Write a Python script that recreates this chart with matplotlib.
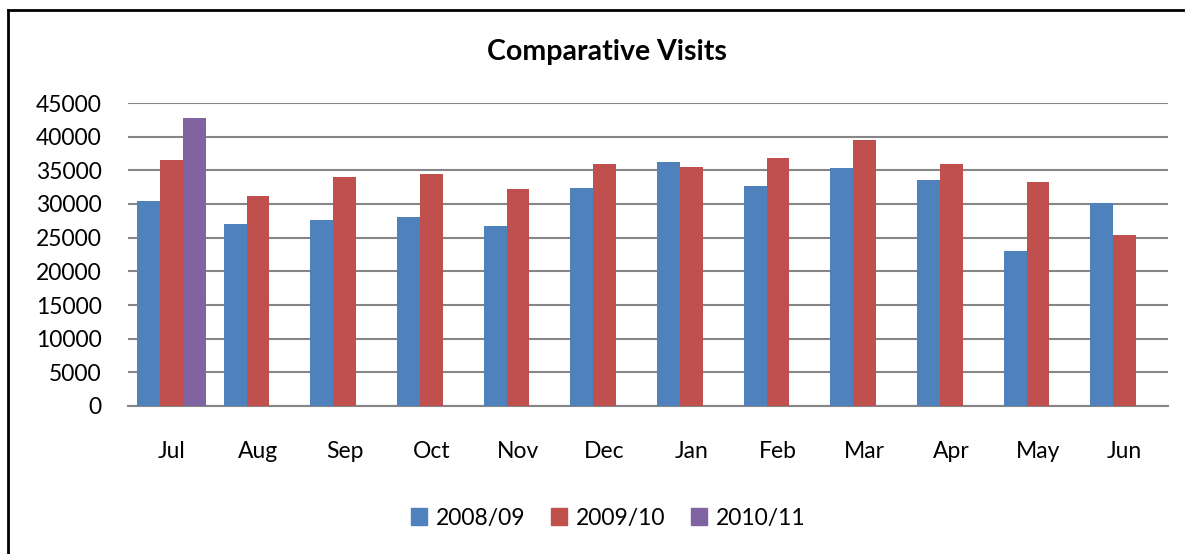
import numpy as np
import matplotlib.pyplot as plt
from matplotlib.patches import Patch
from matplotlib.lines import Line2D

plt.rcParams['font.family'] = ['Lato', 'DejaVu Sans']

months = ['Jul', 'Aug', 'Sep', 'Oct', 'Nov', 'Dec', 'Jan', 'Feb', 'Mar', 'Apr', 'May', 'Jun']
visits_0809 = [30400, 27050, 27650, 28100, 26750, 32350, 36300, 32650, 35350, 33550, 23050, 30150]
visits_0910 = [36600, 31200, 33950, 34450, 32200, 35950, 35450, 36850, 39450, 35950, 33200, 25350]
visits_1011 = [42700]

series = [('2008/09', visits_0809, '#4F81BD'),
          ('2009/10', visits_0910, '#C0504D'),
          ('2010/11', visits_1011, '#8064A2')]

fig = plt.figure(figsize=(11.85, 5.54), dpi=100)
ax = fig.add_axes([128 / 1185, 1 - 406 / 554, 1040 / 1185, 303 / 554])

x = np.arange(len(months))
w = 0.265
for i, (name, vals, col) in enumerate(series):
    ax.bar(x[:len(vals)] + (i - 1) * w, vals, width=w, color=col, label=name, zorder=3)

ax.set_xlim(-0.5, len(months) - 0.5)
ax.set_ylim(0, 45000)
ax.set_yticks(np.arange(0, 45001, 5000))
ax.set_xticks(x)
ax.set_xticklabels(months)
ax.tick_params(axis='both', length=0, labelsize=16.5)
ax.tick_params(axis='y', pad=19)
ax.tick_params(axis='x', pad=25)
ax.yaxis.grid(True, color='#868686', linewidth=1.5, zorder=0)
for s in ['top', 'right', 'left']:
    ax.spines[s].set_visible(False)
ax.spines['bottom'].set_color('#868686')
ax.spines['bottom'].set_linewidth(1.5)

fig.text(0.5118, 1 - 52 / 554, 'Comparative Visits', ha='center', va='center',
         fontsize=20.5, fontweight='bold')

handles = [Patch(color=c) for _, _, c in series]
fig.legend(handles, [n for n, _, _ in series], loc='center', bbox_to_anchor=(0.5135, 1 - 518 / 554),
           ncol=3, frameon=False, fontsize=16.5, handlelength=0.7, handleheight=0.7,
           handletextpad=0.4, columnspacing=1.1)

# chart border (only top and left visible in the original crop)
fig.add_artist(Line2D([8 / 1185, 8 / 1185], [0, 1 - 10 / 554], transform=fig.transFigure, color='black', lw=2))
fig.add_artist(Line2D([8 / 1185, 1], [1 - 10 / 554, 1 - 10 / 554], transform=fig.transFigure, color='black', lw=2))

fig.savefig('out.png', dpi=100)
